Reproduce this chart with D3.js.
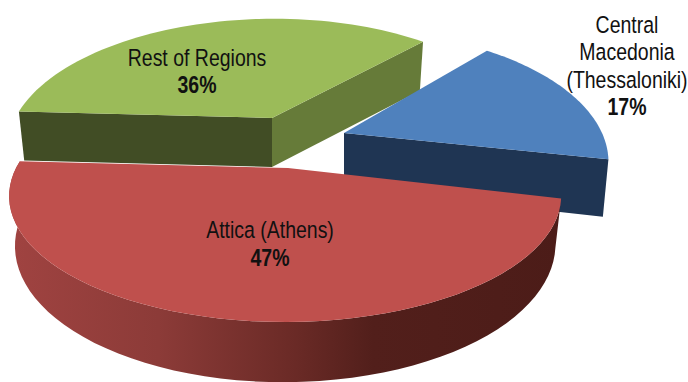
<!DOCTYPE html>
<html>
<head>
<meta charset="utf-8">
<script src="https://cdn.jsdelivr.net/npm/d3@7/dist/d3.min.js"></script>
<style>
html, body { margin: 0; padding: 0; background: #fff; overflow: hidden; }
svg { display: block; }
text { font-family: "Liberation Sans", Arial, sans-serif; fill: #111; text-anchor: middle; }
</style>
</head>
<body>
<script>
// Regional shares, in the order the slices run clockwise
const regions = ["Attica (Athens)", "Rest of Regions", "Central Macedonia (Thessaloniki)"];
const shares = [47, 36, 17];
const labelLines = [["Attica (Athens)"], ["Rest of Regions"], ["Central", "Macedonia", "(Thessaloniki)"]];
const topColors = ["#bf504d", "#9bbb59", "#4f81bd"];
const sideColors = ["url(#redWall)", "#414d25", "#1f3553"];
const farSideColors = ["#7a2f2c", "#667b39", "#1f3553"];

const width = 688, height = 382;
const svg = d3.select("body").append("svg").attr("width", width).attr("height", height);

const defs = svg.append("defs");
const wallGradient = defs.append("linearGradient").attr("id", "redWall")
  .attr("gradientUnits", "userSpaceOnUse").attr("x1", 10).attr("x2", 560).attr("y1", 0).attr("y2", 0);
[[0, "#a04341"], [0.27, "#8c3b38"], [0.52, "#6a2a26"], [0.66, "#521f1b"], [1, "#4c1c18"]]
  .forEach(([o, c]) => wallGradient.append("stop").attr("offset", o).attr("stop-color", c));

// Placement of each exploded slice on the tilted plane
const layouts = [
  { cx: 288, cy: 168, r: 269, ry: 120, depth: 47, depthFade: 1, shear: 0.02, textX: 270, textY: 238, lineGap: 28 },
  { cx: 272, cy: 118, r: 254, ry: 121, depth: 49, depthFade: 0, shear: 0.02, textX: 197, textY: 66, lineGap: 27 },
  { cx: 344, cy: 133, r: 258, ry: 126, depth: 55, depthFade: 1, shear: 0, textX: 627, textY: 33, lineGap: 27.5 }
];
const vanishX = 344, perspective = 0.22, bottomScale = 0.979;
const textSqueeze = 0.795;

// d3.pie supplies the sweep of each slice
const arcs = d3.pie().sort(null).startAngle(101.5 * Math.PI / 180).endAngle((101.5 + 360) * Math.PI / 180)(shares);

function project(p, a, radius, lower) {
  const u = Math.sin(a) * radius, v = -Math.cos(a) * radius;
  const w = 1 - perspective * v;
  let x = vanishX + (p.cx - vanishX + p.r * u) / w;
  let y = p.cy + p.ry * v / w + p.shear * p.r * u / w;
  if (lower) {
    x = p.cx + (x - p.cx) * bottomScale;
    y += p.depth / Math.pow(w, p.depthFade);
  }
  return [x, y];
}

const line = d3.line();
const rim = (p, a0, a1, lower) =>
  d3.range(0, 61).map(i => project(p, a0 + (a1 - a0) * i / 60, 1, lower));

function drawSlice(i) {
  const p = layouts[i], d = arcs[i];
  const a0 = d.startAngle, a1 = d.endAngle;
  const apexTop = project(p, 0, 0, false), apexLow = project(p, 0, 0, true);
  const g = svg.append("g");

  // Radial walls: the end-edge wall sits behind the start-edge wall for the green and blue slices
  const radialWall = (a, fill) => g.append("path")
    .attr("d", line([apexTop, project(p, a, 1, false), project(p, a, 1, true), apexLow]) + "Z")
    .attr("fill", fill);
  if (i === 1) {
    radialWall(a1, farSideColors[i]);
    radialWall(a0, sideColors[i]);
  } else if (i === 2) {
    radialWall(a1, sideColors[i]);
  }

  // Curved outer wall, only for the slice that faces the viewer
  if (i === 0) {
    g.append("path")
      .attr("d", line(rim(p, a0, a1, false).concat(rim(p, a1, a0, true))) + "Z")
      .attr("fill", sideColors[i]);
  }

  // Top face
  g.append("path")
    .attr("d", line([apexTop].concat(rim(p, a0, a1, false))) + "Z")
    .attr("fill", topColors[i]);
}

// Back slices first so the red slice overlaps them
[1, 2, 0].forEach(drawSlice);

// Category and percentage labels, condensed horizontally
regions.forEach((name, i) => {
  const p = layouts[i];
  const label = svg.append("text").attr("font-size", 24.5).attr("data-region", name)
    .attr("transform", `translate(${p.textX},0) scale(${textSqueeze},1)`);
  labelLines[i].forEach((t, k) => {
    label.append("tspan").attr("x", 0).attr("y", p.textY + k * p.lineGap).text(t);
  });
  label.append("tspan").attr("x", 0).attr("y", p.textY + labelLines[i].length * p.lineGap)
    .attr("font-weight", "bold").text(shares[i] + "%");
});
</script>
</body>
</html>
